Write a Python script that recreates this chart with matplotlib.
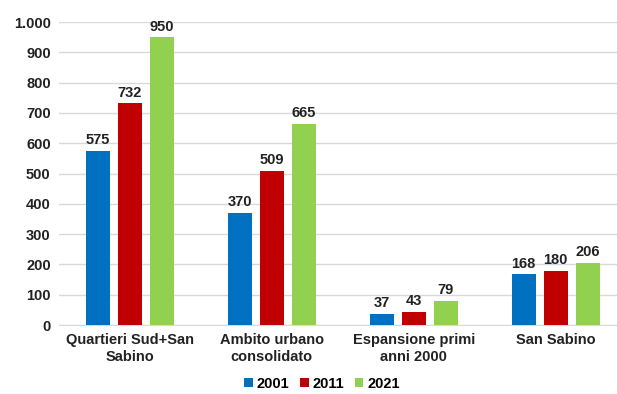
import numpy as np
import matplotlib.pyplot as plt

plt.rcParams['font.family'] = ['Liberation Sans', 'DejaVu Sans']
plt.rcParams['font.weight'] = 'bold'

categories = ['Quartieri Sud+San\nSabino', 'Ambito urbano\nconsolidato',
              'Espansione primi\nanni 2000', 'San Sabino']
years = ['2001', '2011', '2021']
v2001 = [575, 370, 37, 168]
v2011 = [732, 509, 43, 180]
v2021 = [950, 665, 79, 206]
colors = ['#0070C0', '#C00000', '#92D050']

fig = plt.figure(figsize=(6.17, 3.94), dpi=100)
ax = fig.add_axes([0.0956, 0.175, 0.92, 0.769])

x = np.arange(len(categories))
width = 0.17
step = 0.225
for i, (vals, yr) in enumerate(zip([v2001, v2011, v2021], years)):
    bars = ax.bar(x + (i - 1) * step, vals, width, color=colors[i], label=yr, zorder=3)
    for b, v in zip(bars, vals):
        ax.text(b.get_x() + b.get_width() / 2, v + 12, str(v), ha='center', va='bottom',
                fontsize=10.5, fontweight='bold', color='#222222')

ax.set_xlim(-0.5, 3.5)
ax.set_ylim(0, 1000)
ax.set_yticks(range(0, 1001, 100))
ax.set_yticklabels(['0', '100', '200', '300', '400', '500', '600', '700', '800', '900', '1.000'])
ax.set_xticks(x)
ax.set_xticklabels(categories)
ax.yaxis.grid(True, color='#d9d9d9', linewidth=1, zorder=0)
for s in ['top', 'right', 'left']:
    ax.spines[s].set_visible(False)
ax.spines['bottom'].set_color('#d9d9d9')
ax.tick_params(axis='both', length=0, labelsize=10.5, colors='#222222', pad=6)
for lab in ax.get_xticklabels() + ax.get_yticklabels():
    lab.set_fontweight('bold')

fig.legend(loc='lower center', bbox_to_anchor=(0.522, -0.025), ncol=3, frameon=False,
           handlelength=0.6, handleheight=0.6, handletextpad=0.3, columnspacing=0.7,
           prop={'weight': 'bold', 'size': 10.5})

fig.savefig('out.png', dpi=100)
